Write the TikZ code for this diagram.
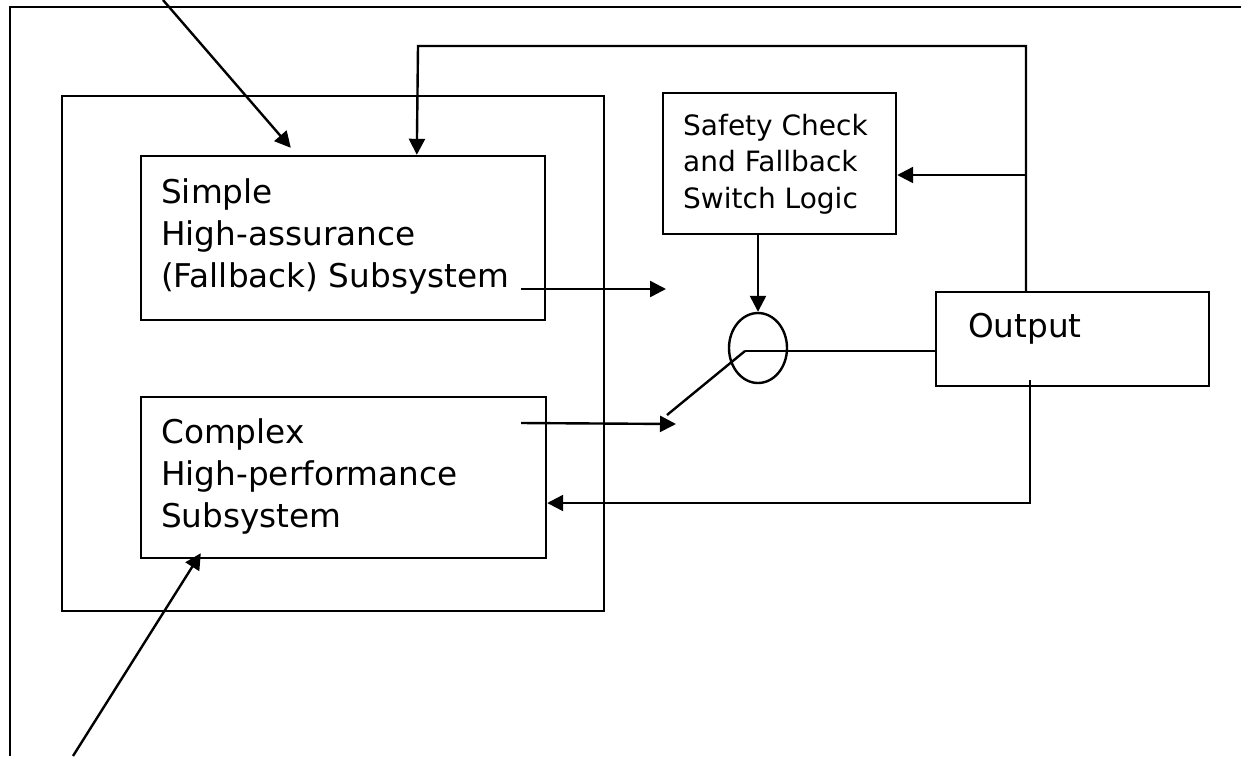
\documentclass[tikz,border=0pt]{standalone}
\usepackage{fontspec}
\setmainfont{DejaVu Sans}
\usetikzlibrary{arrows.meta,shapes.geometric,calc}
\begin{document}
\begin{tikzpicture}[x=1pt,y=-1pt,
  line width=2.4pt,
  box/.style={draw, rectangle, inner sep=0pt},
  lbl/.style={font=\fontsize{32.7}{42}\selectfont, align=left, inner sep=0pt, anchor=base west},
  smalllbl/.style={font=\fontsize{28}{36.5}\selectfont, align=left, inner sep=0pt, anchor=base west},
  arr/.style={-{Triangle[length=16pt,width=16pt]}},
]
\useasboundingbox (0,0) rectangle (1241,756);

% outer frame (open to the right and bottom)
\draw (10,756) -- (10,7) -- (1241,7);

% container for the two subsystems
\node[box, minimum width=542pt, minimum height=515pt] (system) at (333,353.5) {};

% subsystem boxes (label anchors sit on the last text line)
\node[box, minimum width=404pt, minimum height=164pt] (simple) at (343,238) {};
\node[lbl] (simpleT) at (160,287) {Simple\\High-assurance\\(Fallback) Subsystem};

\node[box, minimum width=405pt, minimum height=161pt] (complex) at (343.5,477.5) {};
\node[lbl] (complexT) at (160,527) {Complex\\High-performance\\Subsystem};

% decision logic
\node[box, minimum width=233pt, minimum height=141pt] (safety) at (779.5,163.5) {};
\node[smalllbl] (safetyT) at (682,208) {Safety Check\\and Fallback\\Switch Logic};

% output block
\node[box, minimum width=273pt, minimum height=94pt] (out) at (1072.5,339) {};
\node[lbl] (outT) at (967,337) {Output};

% switch
\node[draw, ellipse, inner sep=0pt, minimum width=58pt, minimum height=70pt] (sw) at (758,348) {};
\coordinate (pivot) at (745,351);
\coordinate (armEnd) at (667,415);

% external inputs
\coordinate (inA) at (163,0);
\coordinate (inB) at (73,756);
\draw[arr] (inA) -- ($(simple.north west)+(151,-7)$);
\draw[arr] (inB) -- ($(complex.south west)+(61,-6)$);

% subsystem outputs towards the switch
\coordinate (sOut) at (521,289);
\coordinate (sIn) at (666,289);
\coordinate (cOut) at (521,423);
\coordinate (cIn) at (676,424);
\draw[arr] (sOut) -- (sIn);
\draw[arr] (cOut) -- (cIn);

% switch arm and output line
\draw (pivot) -- (armEnd);
\draw (pivot) -- (pivot -| out.west);

% control from the safety logic to the switch
\draw[arr] (safety.south -| sw.north) -- (sw.north);

% feedback from the output to the top of the simple subsystem
\coordinate (fbTop) at (1026,46);
\coordinate (fbSafe) at (1026,175);
\draw[arr] (out.north -| fbTop) -- (fbTop) -- (fbTop -| 418,0) -- ($(simple.north west)+(277,0)$);
\draw[arr] (fbSafe) -- (fbSafe -| safety.east);

% feedback from the output to the complex subsystem
\coordinate (fbLow) at (1030,503);
\draw[arr] (1030,380) -- (fbLow) -- (fbLow -| complex.east);
\end{tikzpicture}
\end{document}
